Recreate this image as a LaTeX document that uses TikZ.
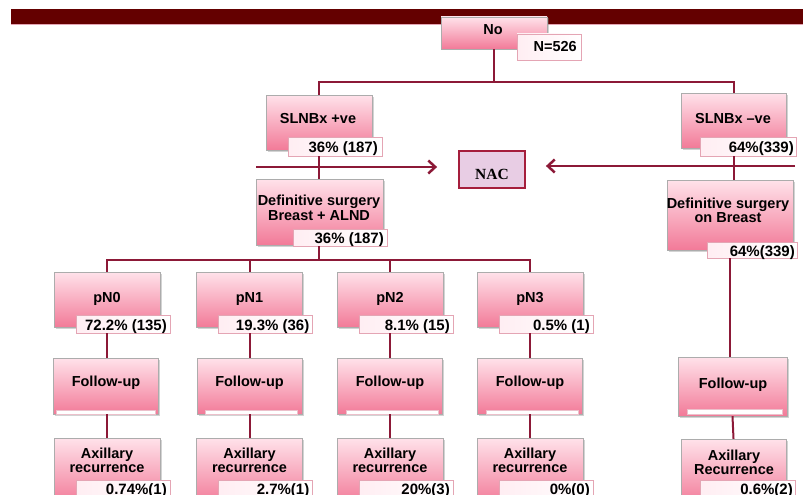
\documentclass[tikz,border=0pt]{standalone}
\usepackage{fontspec}
\setmainfont{Liberation Sans}
\newfontfamily\nacfont{Liberation Serif}
\usetikzlibrary{arrows.meta,shadows}

\definecolor{pinktop}{RGB}{255,226,234}
\definecolor{pinkbot}{RGB}{242,122,152}
\definecolor{linkred}{RGB}{140,25,55}
\definecolor{barred}{RGB}{100,0,0}
\definecolor{nacfill}{RGB}{232,205,228}
\definecolor{nacdraw}{RGB}{165,30,60}
\definecolor{tagdraw}{RGB}{228,165,180}

\tikzset{
  box/.style={draw=gray!65, top color=pinktop, bottom color=pinkbot, inner sep=0pt,
    minimum width=106pt, minimum height=55pt,
    drop shadow={shadow xshift=1.5pt, shadow yshift=-1.5pt, opacity=.35}},
  tag/.style={draw=tagdraw, left color=pinktop!60!white, right color=white, inner sep=0pt,
    minimum width=94pt, minimum height=18pt},
  whitebar/.style={draw=tagdraw!70, fill=white, inner sep=0pt, minimum height=4.5pt},
  head/.style={font=\fontsize{14.5}{15}\selectfont\bfseries, anchor=base, inner sep=0pt},
  twohead/.style={font=\fontsize{14.5}{15}\selectfont\bfseries, anchor=north, inner sep=0pt, align=center},
  num/.style={font=\fontsize{15}{16}\selectfont\bfseries, anchor=base east, inner sep=0pt},
  link/.style={draw=linkred, line width=2pt},
  arrowlink/.style={draw=linkred, line width=2.5pt, -{Straight Barb[length=7pt,width=13pt]}}
}

\begin{document}
\begin{tikzpicture}[x=1pt,y=-1pt]
\useasboundingbox (0,0) rectangle (803,495);

% top band
\fill[barred] (11,9) rectangle (803,24);
\fill[tagdraw] (11,24) rectangle (803,25.5);

% root
\node[box, minimum height=32pt] (nobox) at (494,33) {};
\node[head] (noT) at (493,35) {No};
\node[tag, minimum width=64pt, minimum height=26pt] (ncount) at (549,47) {};
\node[num, font=\fontsize{14.5}{15}\selectfont\bfseries] (ncountT) at (577,51.5) {N=526};

% SLNBx
\node[box] (pos) at (319,122.5) {};
\node[head] (posT) at (318,123) {SLNBx +ve};
\node[tag, minimum height=19pt] (posN) at (335,146.5) {};
\node[num] (posNT) at (378,152) {36\% (187)};

\node[box, minimum width=105pt] (neg) at (733.5,120.5) {};
\node[head] (negT) at (733,123) {SLNBx --ve};
\node[tag, minimum width=96pt, minimum height=19pt] (negN) at (748,146.5) {};
\node[num] (negNT) at (794,152) {64\%(339)};

% NAC
\node[draw=nacdraw, fill=nacfill, line width=1.8pt, minimum width=66pt, minimum height=37pt, inner sep=0pt] (nac) at (492,169.5) {};
\node[font=\nacfont\fontsize{15.5}{16}\selectfont\bfseries, anchor=base, inner sep=0pt] (nacT) at (492,179.5) {NAC};

% definitive surgery
\node[box, minimum width=127pt, minimum height=66pt] (defl) at (319.5,212) {};
\node[twohead] (deflT) at (319,194.5) {Definitive surgery\\Breast + ALND};
\node[tag, minimum height=17pt] (deflN) at (340,237.5) {};
\node[num] (deflNT) at (384,243.5) {36\% (187)};

\node[box, minimum width=126pt, minimum height=70pt] (defr) at (730,215) {};
\node[twohead, font=\fontsize{14.5}{14}\selectfont\bfseries] (defrT) at (728,197.5) {Definitive surgery\\on Breast};
\node[tag, minimum width=90pt, minimum height=16pt] (defrN) at (752,250) {};
\node[num] (defrNT) at (795,256) {64\%(339)};

% nodal status
\node[box] (n0) at (107,299.5) {};
\node[head] (n0T) at (107,302) {pN0};
\node[tag] (n0N) at (123,324) {};
\node[num] (n0NT) at (167,330) {72.2\% (135)};

\node[box] (n1) at (249.5,299.5) {};
\node[head] (n1T) at (249.5,302) {pN1};
\node[tag] (n1N) at (265.5,324) {};
\node[num] (n1NT) at (309.5,330) {19.3\% (36)};

\node[box] (n2) at (390,299.5) {};
\node[head] (n2T) at (390,302) {pN2};
\node[tag] (n2N) at (406,324) {};
\node[num] (n2NT) at (450,330) {8.1\% (15)};

\node[box] (n3) at (530,299.5) {};
\node[head] (n3T) at (530,302) {pN3};
\node[tag] (n3N) at (546,324) {};
\node[num] (n3NT) at (590,330) {0.5\% (1)};

% follow-up
\node[box, minimum width=105pt, minimum height=56pt] (f0) at (106,386) {};
\node[head] (f0T) at (106,386) {Follow-up};
\node[whitebar, minimum width=99pt] (f0B) at (106,412) {};

\node[box, minimum width=105pt, minimum height=56pt] (f1) at (249.5,386) {};
\node[head] (f1T) at (249.5,386) {Follow-up};
\node[whitebar, minimum width=92pt] (f1B) at (251,412) {};

\node[box, minimum width=105pt, minimum height=56pt] (f2) at (390,386) {};
\node[head] (f2T) at (390,386) {Follow-up};
\node[whitebar, minimum width=92pt] (f2B) at (392,412) {};

\node[box, minimum width=105pt, minimum height=56pt] (f3) at (530,386) {};
\node[head] (f3T) at (530,386) {Follow-up};
\node[whitebar, minimum width=92pt] (f3B) at (532,412) {};

\node[box, minimum width=109pt, minimum height=59pt] (folr) at (732.5,386.5) {};
\node[head] (folrT) at (733,388) {Follow-up};
\node[whitebar, minimum width=95pt] (folrB) at (734.5,411.5) {};

% axillary recurrence
\node[box, minimum height=66pt] (a0) at (107,471) {};
\node[twohead, font=\fontsize{14.5}{14}\selectfont\bfseries] (a0T) at (107,447.5) {Axillary\\recurrence};
\node[tag] (a0N) at (123,489) {};
\node[num] (a0NT) at (167,494) {0.74\%(1)};

\node[box, minimum height=66pt] (a1) at (249.5,471) {};
\node[twohead, font=\fontsize{14.5}{14}\selectfont\bfseries] (a1T) at (249.5,447.5) {Axillary\\recurrence};
\node[tag] (a1N) at (265.5,489) {};
\node[num] (a1NT) at (309.5,494) {2.7\%(1)};

\node[box, minimum height=66pt] (a2) at (390,471) {};
\node[twohead, font=\fontsize{14.5}{14}\selectfont\bfseries] (a2T) at (390,447.5) {Axillary\\recurrence};
\node[tag] (a2N) at (406,489) {};
\node[num] (a2NT) at (450,494) {20\%(3)};

\node[box, minimum height=66pt] (a3) at (530,471) {};
\node[twohead, font=\fontsize{14.5}{14}\selectfont\bfseries] (a3T) at (530,447.5) {Axillary\\recurrence};
\node[tag] (a3N) at (546,489) {};
\node[num] (a3NT) at (590,494) {0\%(0)};

\node[box, minimum width=105pt, minimum height=66pt] (axr) at (733.5,472) {};
\node[twohead, font=\fontsize{14.5}{14}\selectfont\bfseries] (axrT) at (734,449.5) {Axillary\\Recurrence};
\node[tag, minimum width=95pt, minimum height=19pt] (axrN) at (747.5,489.5) {};
\node[num] (axrNT) at (793,494) {0.6\%(2)};

% connectors
\coordinate (split) at (494,82);
\draw[link] (nobox.south) -- (split);
\draw[link] (pos.north) |- (split) -| (neg.north);
\draw[link] (posN.south -| pos.south) -- (defl.north -| pos.south);
\draw[link] (negN.south -| neg.south) -- (defr.north -| neg.south);

\coordinate (lstart) at (256,167);
\coordinate (rstart) at (795,166);
\draw[arrowlink, shorten >=21pt] (lstart) -- (nac.west |- lstart);
\draw[arrowlink, shorten >=20pt] (rstart) -- (nac.east |- rstart);

\coordinate (fork) at (319,260);
\draw[link] (deflN.south -| pos.south) -- (fork);
\draw[link] (n0.north) |- (fork) -| (n3.north);
\draw[link] (n1.north) |- (fork);
\draw[link] (n2.north) |- (fork);

\draw[link] (n0N.south -| n0.south) -- (f0.north -| n0.south);
\draw[link] (n1N.south -| n1.south) -- (f1.north -| n1.south);
\draw[link] (n2N.south -| n2.south) -- (f2.north -| n2.south);
\draw[link] (n3N.south -| n3.south) -- (f3.north -| n3.south);
\draw[link] (defrN.south -| defr.south) -- (folr.north -| defr.south);

\draw[link] (f0.south -| n0.south) -- (a0.north);
\draw[link] (f1.south) -- (a1.north);
\draw[link] (f2.south) -- (a2.north);
\draw[link] (f3.south) -- (a3.north);
\draw[link] (folr.south) -- (axr.north);
\end{tikzpicture}
\end{document}
